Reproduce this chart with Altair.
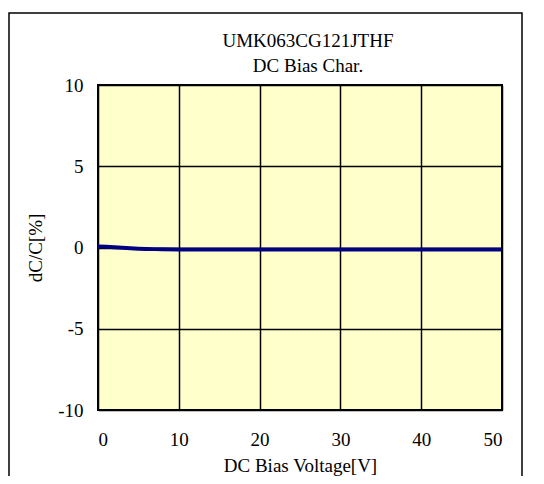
import altair as alt
import pandas as pd

voltage = [0, 1, 2, 3, 4, 5, 6, 7, 8, 10, 15, 20, 25, 30, 35, 40, 45, 50]
dcc = [0.06, 0.04, 0.01, -0.02, -0.05, -0.07, -0.09, -0.10, -0.11, -0.12, -0.12, -0.12, -0.12, -0.12, -0.12, -0.12, -0.12, -0.12]
x_ticks = [0, 10, 20, 30, 40, 50]
y_ticks = [-10, -5, 0, 5, 10]
title_lines = ["UMK063CG121JTHF", "DC Bias Char."]

df = pd.DataFrame({"v": voltage, "c": dcc})
FONT = "Liberation Serif"

line = alt.Chart(df).mark_line(color="#000080", strokeWidth=4).encode(
    x=alt.X("v:Q", scale=alt.Scale(domain=[0, 50], nice=False),
            axis=alt.Axis(values=x_ticks, title="DC Bias Voltage[V]", grid=True,
                          gridColor="black", gridWidth=1.5, gridOpacity=1,
                          domain=False, ticks=False, labelPadding=20,
                          labelFont=FONT, labelFontSize=19, labelColor="black",
                          titleFont=FONT, titleFontSize=19, titleFontWeight="normal",
                          titleColor="black", titlePadding=7)),
    y=alt.Y("c:Q", scale=alt.Scale(domain=[-10, 10], nice=False),
            axis=alt.Axis(values=y_ticks, title="dC/C[%]", grid=True,
                          gridColor="black", gridWidth=1.5, gridOpacity=1,
                          domain=False, ticks=False, labelPadding=15,
                          labelExpr="replace(datum.label, '\u2212', '-')",
                          labelFont=FONT, labelFontSize=19, labelColor="black",
                          titleFont=FONT, titleFontSize=19, titleFontWeight="normal",
                          titleColor="black", titlePadding=12)),
)

title_df = pd.DataFrame({"t": ["\n".join(title_lines)]})
title = alt.Chart(title_df).mark_text(
    font=FONT, fontSize=19, color="black", align="center", baseline="top",
    lineBreak="\n", lineHeight=25
).encode(
    text="t:N", x=alt.value(210), y=alt.value(-53)
)

frame = alt.Chart(pd.DataFrame({"k": [0]})).mark_rect(
    filled=False, stroke="black", strokeWidth=1.5
).encode(
    x=alt.value(-89), x2=alt.value(424), y=alt.value(-72), y2=alt.value(420)
)

chart = alt.layer(line, title, frame).properties(
    width=404, height=325,
    padding={"left": 90, "top": 77, "right": 34, "bottom": 66},
    autosize=alt.AutoSizeParams(type="none"),
).configure_view(
    fill="#FFFFCC", stroke="black", strokeWidth=2
)

chart.save("out.html", embed_options={"renderer": "svg", "actions": False})
